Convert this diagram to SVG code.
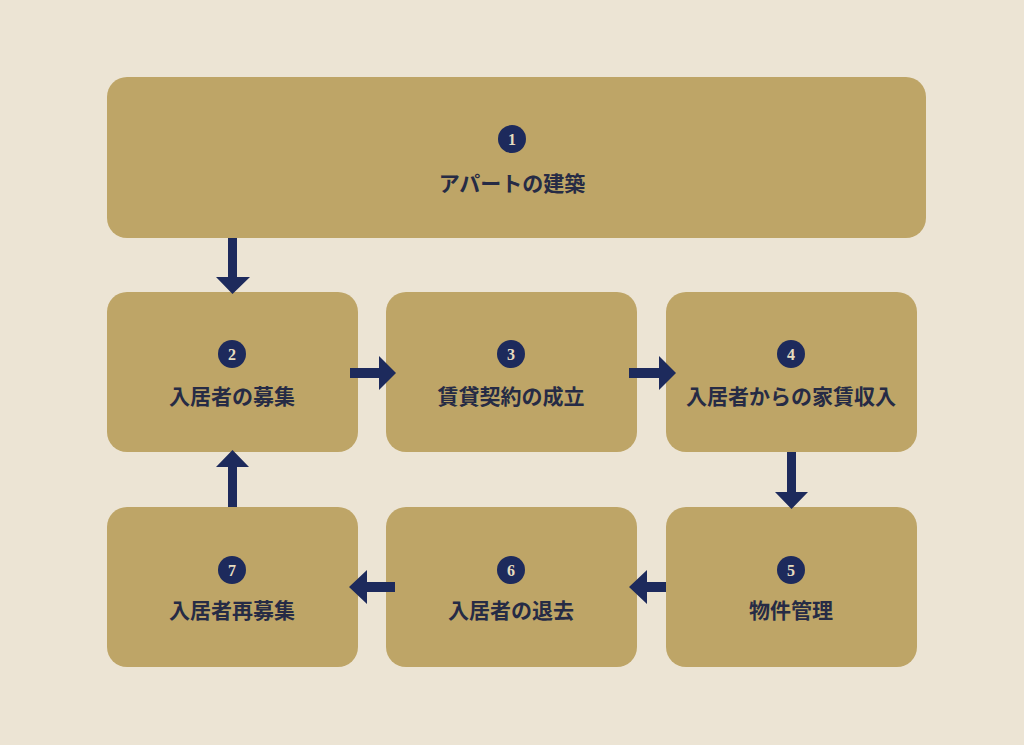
<svg xmlns="http://www.w3.org/2000/svg" width="1024" height="745" viewBox="0 0 1024 745">
<style>
.box{fill:#bea567}
.num{fill:#1d2a5c}
.nt{font-family:"Liberation Serif",serif;font-weight:700;font-size:16px;fill:#e6dcc0;text-anchor:middle}
.lb{font-family:"Noto Sans CJK JP",sans-serif;font-weight:700;font-size:21px;fill:#262b45;text-anchor:middle}
.ar{fill:#1d2a5c}
</style>
<rect width="1024" height="745" fill="#ece4d4"/>
<g id="n1"><rect class="box" x="107" y="77" width="819" height="161" rx="20"/><circle class="num" cx="512" cy="139" r="14"/><text class="nt" x="512" y="145">1</text><text class="lb" x="512" y="191">アパートの建築</text></g>
<g id="n2"><rect class="box" x="107" y="292" width="251" height="160" rx="20"/><circle class="num" cx="232" cy="354" r="14"/><text class="nt" x="232" y="360">2</text><text class="lb" x="232" y="404">入居者の募集</text></g>
<g id="n3"><rect class="box" x="386" y="292" width="251" height="160" rx="20"/><circle class="num" cx="511" cy="354" r="14"/><text class="nt" x="511" y="360">3</text><text class="lb" x="511" y="404">賃貸契約の成立</text></g>
<g id="n4"><rect class="box" x="666" y="292" width="251" height="160" rx="20"/><circle class="num" cx="791" cy="354" r="14"/><text class="nt" x="791" y="360">4</text><text class="lb" x="791" y="404">入居者からの家賃収入</text></g>
<g id="n5"><rect class="box" x="666" y="507" width="251" height="160" rx="20"/><circle class="num" cx="791" cy="570" r="14"/><text class="nt" x="791" y="576">5</text><text class="lb" x="791" y="618">物件管理</text></g>
<g id="n6"><rect class="box" x="386" y="507" width="251" height="160" rx="20"/><circle class="num" cx="511" cy="570" r="14"/><text class="nt" x="511" y="576">6</text><text class="lb" x="511" y="618">入居者の退去</text></g>
<g id="n7"><rect class="box" x="107" y="507" width="251" height="160" rx="20"/><circle class="num" cx="232" cy="570" r="14"/><text class="nt" x="232" y="576">7</text><text class="lb" x="232" y="618">入居者再募集</text></g>
<g id="connectors">
<path class="ar" d="M228 238H237V277H250L232.5 294L216 277H228Z"/>
<path class="ar" d="M350 368H379V356L396 373L379 390V378H350Z"/>
<path class="ar" d="M629 368H659V356L676 373L659 390V378H629Z"/>
<path class="ar" d="M787 452H796V492H808L791.5 509L775 492H787Z"/>
<path class="ar" d="M666 582H647V570L629 587L647 604V592H666Z"/>
<path class="ar" d="M395 582H367V570L349 587L367 604V592H395Z"/>
<path class="ar" d="M228 507H237V467H249L232.5 450L216 467H228Z"/>
</g>
</svg>
